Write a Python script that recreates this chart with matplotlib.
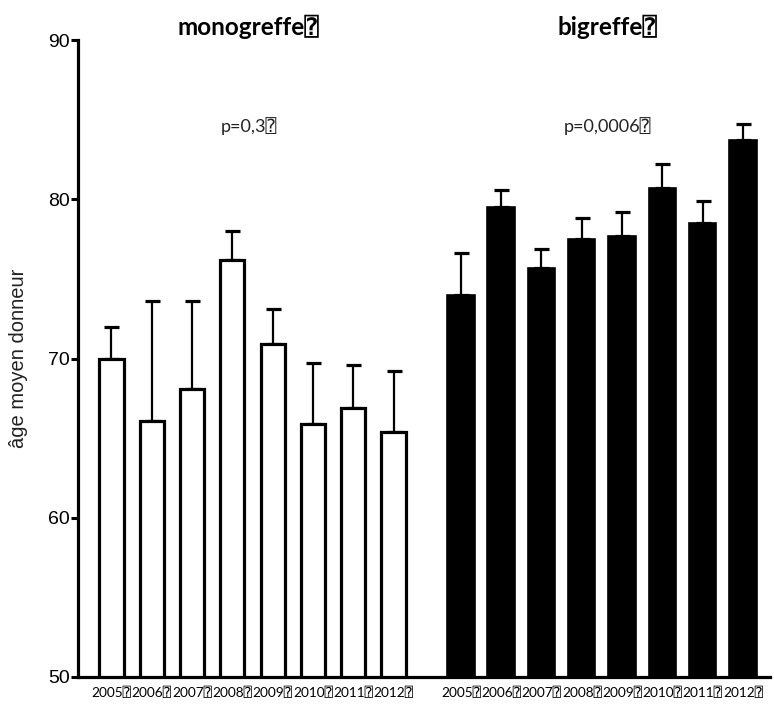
import matplotlib.pyplot as plt
import numpy as np

BOX = "\u2370"

years = ["2005", "2006", "2007", "2008", "2009", "2010", "2011", "2012"]
mono_mean = [70.0, 66.1, 68.1, 76.2, 70.9, 65.9, 66.9, 65.4]
mono_err = [2.0, 7.5, 5.5, 1.8, 2.2, 3.8, 2.7, 3.8]
bi_mean = [74.0, 79.5, 75.7, 77.5, 77.7, 80.7, 78.5, 83.7]
bi_err = [2.6, 1.1, 1.2, 1.3, 1.5, 1.5, 1.4, 1.0]
titles = ["monogreffe", "bigreffe"]
pvals = ["p=0,3", "p=0,0006"]

plt.rcParams["font.family"] = ["Liberation Sans", "DejaVu Sans"]
LABEL_FONT = ["Lato", "DejaVu Sans", "DejaVu Sans Mono"]

fig = plt.figure(figsize=(7.74, 7.06), dpi=100)
ax = fig.add_axes([0.1008, 0.0411, 0.894, 0.9022])

x_mono = np.arange(len(years))
x_bi = np.arange(len(years)) + 8.67

ax.bar(x_mono, mono_mean, width=0.6, color="white",
       edgecolor="black", linewidth=2.3, zorder=2)
ax.bar(x_bi, bi_mean, width=0.68, color="black", edgecolor="black",
       linewidth=1.2, zorder=2)

for xs, m, e in [(x_mono, mono_mean, mono_err), (x_bi, bi_mean, bi_err)]:
    ax.errorbar(xs, m, yerr=[np.zeros(len(e)), e], fmt="none", ecolor="black",
                elinewidth=1.6, capsize=5.4, capthick=2.3, zorder=1)

ax.set_ylim(50, 90)
ax.set_xlim(-0.83, 16.34)
ax.set_yticks([50, 60, 70, 80, 90])
ax.set_xticks(np.concatenate([x_mono, x_bi]))
ax.set_xticklabels([y + BOX for y in years] * 2, family=LABEL_FONT, fontsize=9.8)
ax.tick_params(axis="x", length=0, pad=7)
ax.tick_params(axis="y", length=5, width=2.2, labelsize=14, pad=1)

for s in ["top", "right"]:
    ax.spines[s].set_visible(False)
for s in ["left", "bottom"]:
    ax.spines[s].set_linewidth(2.3)

ax.set_ylabel("âge moyen donneur", fontsize=14.5, color="#222222", labelpad=14)

centers = [3.5 - 0.1, 8.67 + 3.5 + 0.15]
for c, t, p in zip(centers, titles, pvals):
    ax.text(c, 90.8, t + BOX, ha="center", va="center", fontsize=17.5,
            fontweight="bold", family=LABEL_FONT, clip_on=False)
    ax.text(c, 84.6, p + BOX, ha="center", va="center", fontsize=13,
            family=LABEL_FONT, color="#222222")

fig.savefig("out.png", dpi=100)
